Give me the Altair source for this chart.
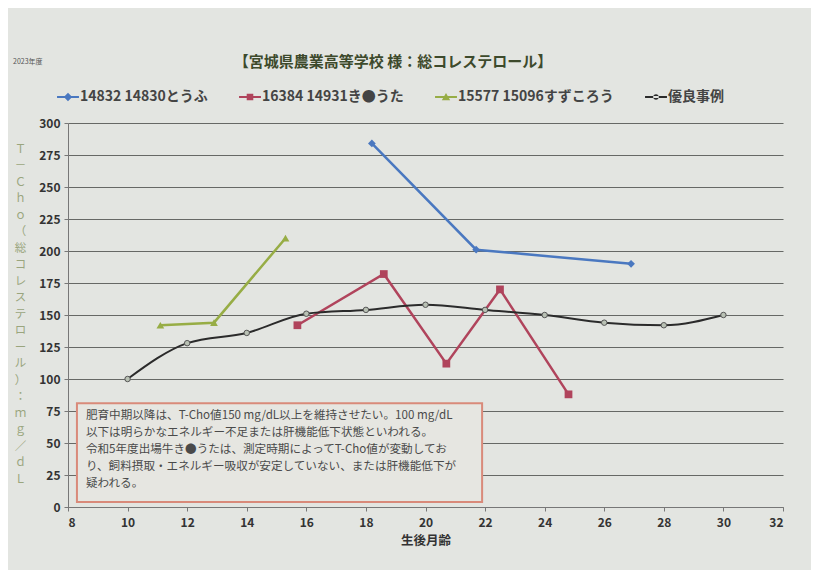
import altair as alt
import pandas as pd

FONT = "Noto Sans CJK JP"

# ---- data ----
series_names = ["14832 14830とうふ", "16384 14931き●うた", "15577 15096すずころう", "優良事例"]
series_colors = ["#4a78c0", "#b0445c", "#97ad45", "#2b2b2b"]
point_shapes = ["diamond", "square", "triangle-up", "circle"]

tofu_month = [18.2, 21.7, 26.9]
tofu_tcho = [284, 201, 190]

kyuta_month = [15.7, 18.6, 20.7, 22.5, 24.8]
kyuta_tcho = [142, 182, 112, 170, 88]

suzu_month = [11.1, 12.9, 15.3]
suzu_tcho = [142, 144, 210]

best_month = [10, 12, 14, 16, 18, 20, 22, 24, 26, 28, 30]
best_tcho = [100, 128, 136, 151, 154, 158, 154, 150, 144, 142, 150]

x_ticks = [8, 10, 12, 14, 16, 18, 20, 22, 24, 26, 28, 30, 32]
y_ticks = [0, 25, 50, 75, 100, 125, 150, 175, 200, 225, 250, 275, 300]

title_text = "【宮城県農業高等学校 様：総コレステロール】"
year_text = "2023年度"
x_title = "生後月齢"
y_title = "Ｔ－Ｃｈｏ（総コレステロール）：ｍｇ／ｄＬ"

note_lines = [
    "肥育中期以降は、T-Cho値150 mg/dL以上を維持させたい。100 mg/dL",
    "以下は明らかなエネルギー不足または肝機能低下状態といわれる。",
    "令和5年度出場牛き●うたは、測定時期によってT-Cho値が変動してお",
    "り、飼料摂取・エネルギー吸収が安定していない、または肝機能低下が",
    "疑われる。",
]
note_box = {"x0": [8.3], "x1": [21.9], "y0": [4], "y1": [81]}
note_anchor = {"x": [8.6], "y": [76]}

# legend symbols: a short line with the series marker on it
legend_paths = [
    "M-1,-0.09H1V0.09H-1Z M0,-0.38L0.38,0L0,0.38L-0.38,0Z",
    "M-1,-0.09H1V0.09H-1Z M-0.3,-0.3H0.3V0.3H-0.3Z",
    "M-1,-0.09H1V0.09H-1Z M0,-0.36L0.38,0.3H-0.38Z",
    "M-1,-0.08H1V0.08H-1Z M-0.26,0A0.26,0.26 0 1,0 0.26,0A0.26,0.26 0 1,0 -0.26,0Z",
]

# ---- tables ----
rows = []
for name, ms, vs in [
    (series_names[0], tofu_month, tofu_tcho),
    (series_names[1], kyuta_month, kyuta_tcho),
    (series_names[2], suzu_month, suzu_tcho),
    (series_names[3], best_month, best_tcho),
]:
    for m, v in zip(ms, vs):
        rows.append({"series": name, "month": m, "tcho": v})
df = pd.DataFrame(rows)
df_animals = df[df.series != series_names[3]]
df_best = df[df.series == series_names[3]]

BG = "#e3e5e1"

xscale = alt.Scale(domain=[8, 32], nice=False, zero=False)
yscale = alt.Scale(domain=[0, 300], nice=False)
cscale = alt.Scale(domain=series_names, range=series_colors)

x_axis = alt.Axis(values=x_ticks, title=x_title, grid=False,
                  labelFontSize=12, labelColor="#333", labelFontWeight="bold",
                  titleFontSize=12.5, titleFontWeight="bold", titleColor="#333",
                  titlePadding=6, tickSize=4, tickColor="#777",
                  domainColor="#777", labelPadding=6, labelFont=FONT, titleFont=FONT)
y_axis = alt.Axis(values=y_ticks, title=list(y_title), titleAngle=0,
                  titleX=-48, titleY=20, titleAlign="center", titleBaseline="top",
                  titleLineHeight=16.5, titleFontSize=11.5, titleFontWeight="normal",
                  titleColor="#9aa57e", titleFont=FONT, labelOverlap=False,
                  grid=True, gridColor="#666865", gridWidth=1.1,
                  labelFontSize=12, labelColor="#333", labelFontWeight="bold", labelFont=FONT,
                  tickSize=4, tickColor="#777", domainColor="#777", labelPadding=4)

def X(field):
    return alt.X(field, scale=xscale, axis=x_axis)

def Y(field):
    return alt.Y(field, scale=yscale, axis=y_axis)

legend = alt.Legend(title=None, orient="none", legendX=-11, legendY=-37,
                    direction="horizontal", columns=4, columnPadding=31,
                    labelFontSize=14, labelFont=FONT, labelColor="#444", labelFontWeight="bold",
                    labelLimit=400, symbolSize=480, symbolOpacity=1, symbolStrokeWidth=0,
                    labelOffset=1)

color_enc = alt.Color("series:N", scale=cscale, legend=legend, sort=series_names)

box = alt.Chart(pd.DataFrame(note_box)).mark_rect(
    fill="#e6e6e1", stroke="#d98a7a", strokeWidth=2
).encode(x=X("x0:Q"), x2="x1:Q", y=Y("y0:Q"), y2="y1:Q")

note = alt.Chart(pd.DataFrame(note_anchor)).mark_text(
    text=note_lines, align="left", baseline="top", fontSize=11.6, lineHeight=17,
    font=FONT, color="#4a4a4a"
).encode(x=X("x:Q"), y=Y("y:Q"))

lines_animals = alt.Chart(df_animals).mark_line(strokeWidth=2.5).encode(
    x=X("month:Q"), y=Y("tcho:Q"), color=color_enc, detail="series:N")
line_best = alt.Chart(df_best).mark_line(strokeWidth=2, interpolate="monotone").encode(
    x=X("month:Q"), y=Y("tcho:Q"), color=color_enc)

point_layers = []
for name, shape in zip(series_names[:3], point_shapes[:3]):
    point_layers.append(
        alt.Chart(df).transform_filter(alt.datum.series == name)
        .mark_point(filled=True, size=60, opacity=1, shape=shape)
        .encode(x=X("month:Q"), y=Y("tcho:Q"), color=color_enc)
    )
best_points = alt.Chart(df_best).mark_point(filled=True, size=30, fill="#b9c1b4",
                                            stroke="#555", strokeWidth=1, opacity=1).encode(
    x=X("month:Q"), y=Y("tcho:Q"))

legend_layer = alt.Chart(df).mark_point(filled=True, opacity=0).encode(
    x=X("month:Q"), y=Y("tcho:Q"),
    color=color_enc,
    shape=alt.Shape("series:N", scale=alt.Scale(domain=series_names, range=legend_paths),
                    legend=legend, sort=series_names),
)

title = alt.Chart(pd.DataFrame({"t": [title_text]})).mark_text(
    align="center", baseline="middle", fontSize=15, fontWeight="bold", font=FONT, color="#3d4a2c"
).encode(text="t:N", x=alt.value(325), y=alt.value(-61))

year = alt.Chart(pd.DataFrame({"t": [year_text]})).mark_text(
    align="left", baseline="middle", fontSize=7, font=FONT, color="#555"
).encode(text="t:N", x=alt.value(-55), y=alt.value(-61))

chart = alt.layer(box, note, lines_animals, line_best, *point_layers, best_points,
                  legend_layer, title, year).properties(
    width=715, height=384,
    autosize=alt.AutoSizeParams(type="none"),
    padding={"left": 60, "top": 115, "right": 28, "bottom": 63},
    background=BG,
).configure_view(stroke=None)

chart.save("out.html", embed_options={"renderer": "svg", "actions": False})
